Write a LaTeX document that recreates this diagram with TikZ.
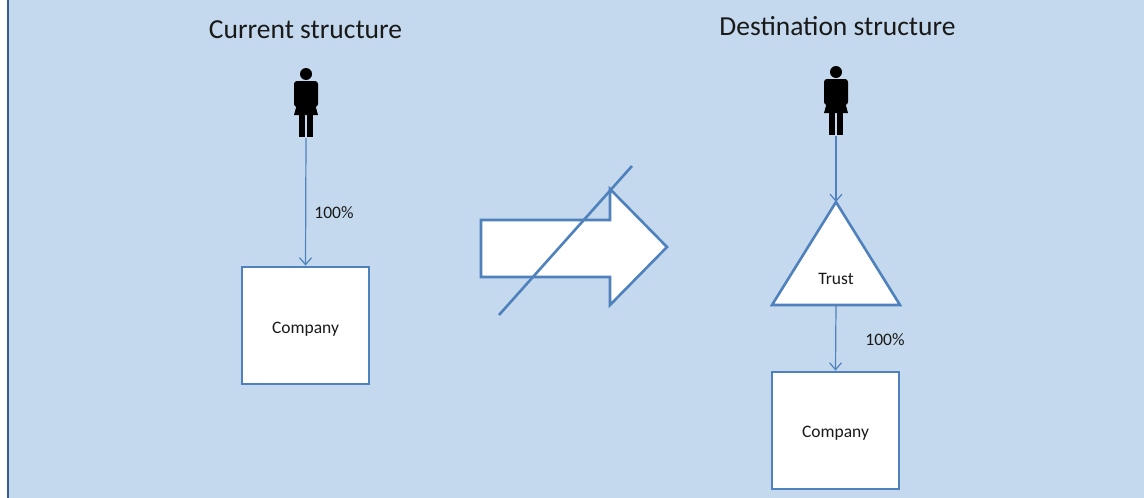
\documentclass[tikz,border=0pt]{standalone}
\usepackage{fontspec}
\setmainfont{Carlito}
\usetikzlibrary{arrows.meta}
\definecolor{bgblue}{RGB}{196,217,237}
\definecolor{edgeblue}{RGB}{56,93,140}
\definecolor{shapeblue}{RGB}{79,129,189}
\definecolor{txt}{RGB}{25,25,25}
\tikzset{
  title/.style={anchor=base, text=txt, inner sep=0, font=\fontsize{27.5}{33}\selectfont},
  lbl/.style={text=txt, inner sep=0, font=\fontsize{17.5}{21}\selectfont},
  boxstyle/.style={draw=shapeblue, fill=white, line width=2.8pt, minimum width=127pt, minimum height=117pt, inner sep=0},
  shapeline/.style={draw=shapeblue, line width=2.6pt, line join=miter},
  conn/.style={draw=shapeblue, line width=1.2pt, -{Straight Barb[length=7pt,width=12pt,line width=1.2pt]}},
  holder/.style={inner sep=0, minimum width=24pt, minimum height=70pt},
  person/.pic={
    \fill[black] (0,0) circle (6);
    \fill[black, rounded corners=3] (-12,7) rectangle (12,33);
    \fill[black] (-9,30) -- (9,30) -- (12,41) -- (-12,41) -- cycle;
    \fill[black] (-7,40) rectangle (-0.6,63);
    \fill[black] (0.6,40) rectangle (7,63);
  }
}
\begin{document}
\begin{tikzpicture}[x=1pt,y=-1pt]
\useasboundingbox (0,0) rectangle (1144,498);
\fill[white] (0,0) rectangle (1144,498);
\fill[bgblue] (7,0) rectangle (1144,498);
\draw[edgeblue, line width=2pt] (7.5,0) -- (7.5,498);

% titles
\node[title] (t1) at (305.5,38) {Current structure};
\node[title] (t2) at (837.5,35) {Destination structure};

% persons
\pic at (306,74) {person};
\node[holder] (p1) at (306,103) {};
\pic at (836,72) {person};
\node[holder] (p2) at (836,101) {};

% left structure
\node[boxstyle] (c1) at (305.5,325.5) {};
\node[lbl] (c1t) at (305.5,329.5) {Company};
\draw[conn] (p1.south) -- (c1.north);
\node[lbl] (l1) at (334,213) {100\%};

% big crossed arrow
\draw[shapeline, fill=white] (481,220) -- (610,220) -- (610,189) -- (667,247) -- (610,305) -- (610,277) -- (481,277) -- cycle;
\draw[shapeline] (499,315) -- (632,166);

% right structure
\draw[shapeline, fill=white] (836,202) coordinate (tapex) -- (900,305) -- (772,305) -- cycle;
\coordinate (tbase) at (836,305);
\node[lbl] (trust) at (836,279) {Trust};
\draw[conn] (p2.south) -- (tapex);
\node[boxstyle] (c2) at (835.5,430.5) {};
\node[lbl] (c2t) at (835.5,433) {Company};
\draw[conn] (tbase) -- (c2.north);
\node[lbl] (l2) at (885,340) {100\%};
\end{tikzpicture}
\end{document}
